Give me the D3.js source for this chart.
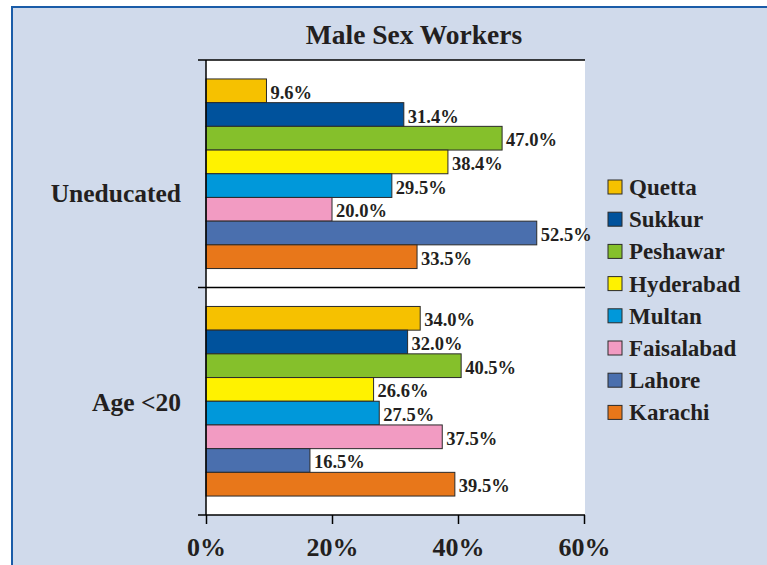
<!doctype html>
<html>
<head>
<meta charset="UTF-8">
<script src="https://d3js.org/d3.v7.min.js"></script>
<style>
  body { margin: 0; background: #fff; }
  text { font-family: "Liberation Serif", serif; font-weight: bold; fill: #231f20; }
</style>
</head>
<body>
<div id="chart"></div>
<script>
// data
var categories = ["Uneducated", "Age <20"];
var cities = ["Quetta", "Sukkur", "Peshawar", "Hyderabad", "Multan", "Faisalabad", "Lahore", "Karachi"];
var uneducated = [9.6, 31.4, 47.0, 38.4, 29.5, 20.0, 52.5, 33.5];
var ageUnder20 = [34.0, 32.0, 40.5, 26.6, 27.5, 37.5, 16.5, 39.5];
var xTicks = [0, 20, 40, 60];
var cityColors = ["#f6c100", "#00529c", "#85c02b", "#fff200", "#0098da", "#f29bc2", "#4a6fae", "#e8771a"];

var w = 767, h = 565;
var svg = d3.select("#chart").append("svg").attr("width", w).attr("height", h);

// panel
svg.append("rect").attr("x", 12).attr("y", 7).attr("width", w + 10).attr("height", h + 10)
    .attr("fill", "#d0daeb").attr("stroke", "#1a5ca8").attr("stroke-width", 2);

var plotL = 206, plotR = 584, plotT = 60, plotB = 515;

var x = d3.scaleLinear().domain([0, 60]).range([plotL, plotR]);
var y = d3.scaleBand().domain(categories).range([plotT, plotB]).padding(0);
var yi = d3.scaleBand().domain(cities).range([0, y.bandwidth()]).paddingInner(0).paddingOuter(0.8);

svg.append("rect").attr("x", plotL).attr("y", plotT).attr("width", 585 - plotL).attr("height", plotB - plotT)
    .attr("fill", "#fff");

svg.append("text").attr("x", 414).attr("y", 44).attr("text-anchor", "middle")
    .style("font-size", "27.5px").text("Male Sex Workers");

var rows = [];
categories.forEach(function(c, ci) {
    var vals = ci == 0 ? uneducated : ageUnder20;
    cities.forEach(function(city, i) {
        rows.push({cat: c, city: city, value: vals[i], color: cityColors[i]});
    });
});

var g = svg.append("g");
g.selectAll(".bar").data(rows).enter().append("rect")
    .attr("class", "bar")
    .attr("x", x(0))
    .attr("y", function(d) { return y(d.cat) + yi(d.city); })
    .attr("width", function(d) { return x(d.value) - x(0); })
    .attr("height", yi.bandwidth())
    .attr("fill", function(d) { return d.color; })
    .attr("stroke", "#2a2a2a").attr("stroke-width", 1);

g.selectAll(".val").data(rows).enter().append("text")
    .attr("class", "val")
    .attr("x", function(d) { return x(d.value) + 4; })
    .attr("y", function(d) { return y(d.cat) + yi(d.city) + yi.bandwidth() / 2 + 8; })
    .style("font-size", "18.5px")
    .text(function(d) { return d.value.toFixed(1) + "%"; });

// horizontal separators
var bounds = [plotT, y(categories[1]), plotB];
svg.selectAll(".sep").data(bounds).enter().append("line")
    .attr("x1", plotL - 8).attr("x2", 585)
    .attr("y1", function(d) { return d; }).attr("y2", function(d) { return d; })
    .attr("stroke", "#000").attr("stroke-width", 1.5);

svg.append("line").attr("x1", plotL).attr("x2", plotL).attr("y1", plotT).attr("y2", plotB)
    .attr("stroke", "#000").attr("stroke-width", 1.5);

// category labels
var labelShift = [28, 10];
svg.selectAll(".cat").data(categories).enter().append("text")
    .attr("x", 181)
    .attr("y", function(d, i) { return y(d) + y.bandwidth() / 2 + labelShift[i]; })
    .attr("text-anchor", "end")
    .style("font-size", "25.5px")
    .text(function(d) { return d; });

// x axis
var xAxis = svg.append("g").attr("transform", "translate(0," + plotB + ")")
    .call(d3.axisBottom(x).tickValues(xTicks).tickSize(9).tickPadding(14)
        .tickFormat(function(d) { return d + "%"; }));
xAxis.select(".domain").remove();
xAxis.selectAll("line").attr("stroke", "#000").attr("stroke-width", 1.5);
xAxis.selectAll("text").attr("font-family", null).attr("font-size", null)
    .style("font-size", "26px").attr("dy", "0.71em");

// legend
var leg = svg.append("g").attr("transform", "translate(608,187)");
var li = leg.selectAll(".li").data(cities).enter().append("g")
    .attr("transform", function(d, i) { return "translate(0," + (i * 32.2) + ")"; });
li.append("rect").attr("x", 0).attr("y", -7).attr("width", 14).attr("height", 14)
    .attr("fill", function(d, i) { return cityColors[i]; })
    .attr("stroke", "#2a2a2a").attr("stroke-width", 1);
li.append("text").attr("x", 21).attr("y", 8).style("font-size", "23px")
    .text(function(d) { return d; });
</script>
</body>
</html>
